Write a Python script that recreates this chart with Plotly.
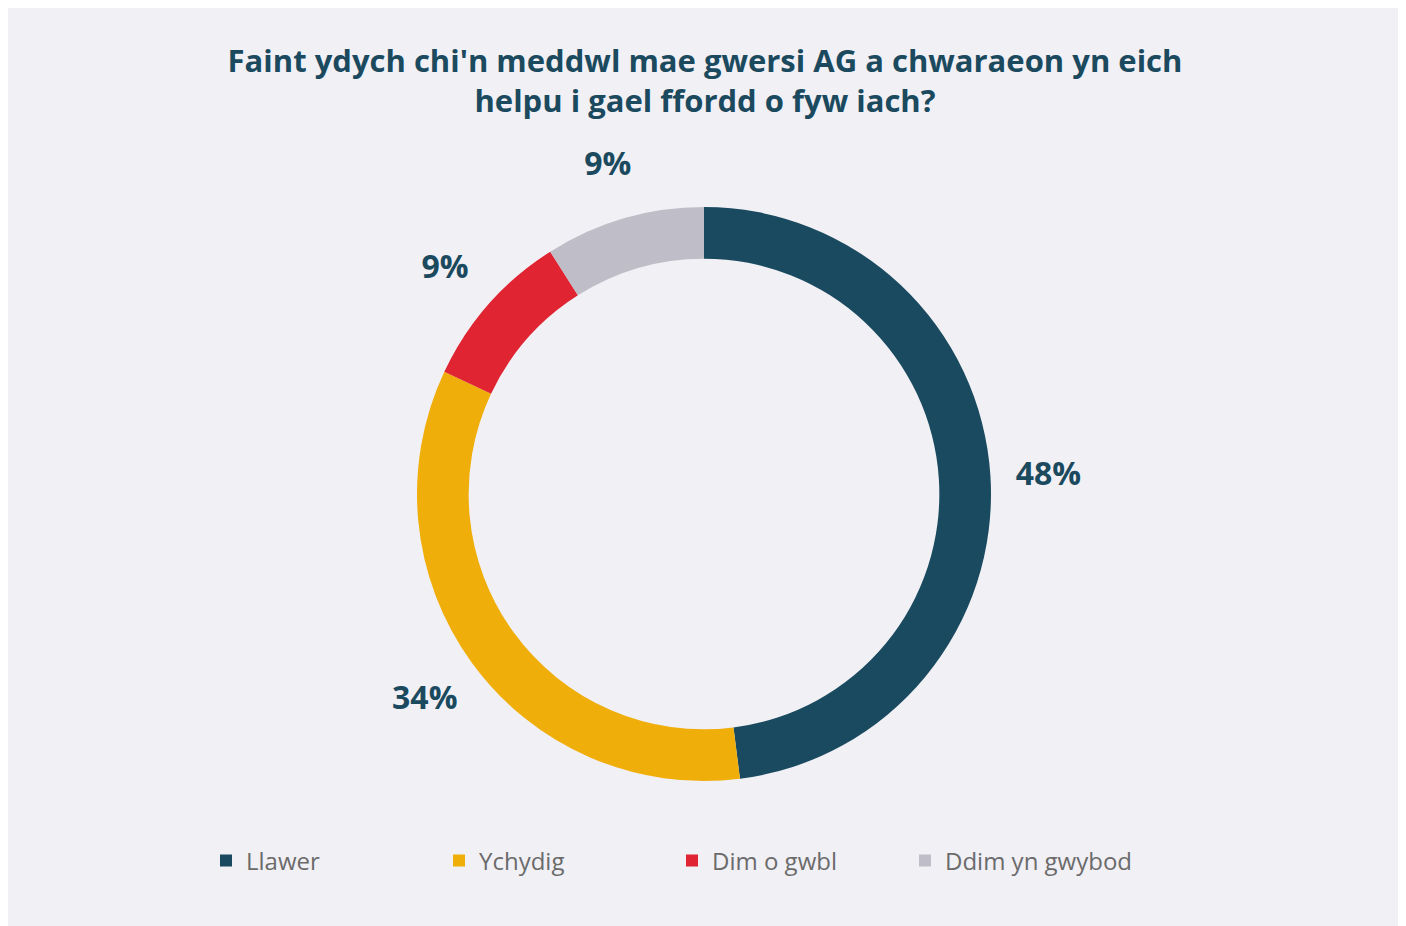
import plotly.graph_objects as go

categories = ["Llawer", "Ychydig", "Dim o gwbl", "Ddim yn gwybod"]
values = [48, 34, 9, 9]
colors = ["#194a5f", "#f0ae0b", "#e02432", "#bfbec8"]
title_text = "Faint ydych chi'n meddwl mae gwersi AG a chwaraeon yn eich<br>helpu i gael ffordd o fyw iach?"

W, H = 1394, 926
cx, cy = 696, 486

def dom(r):
    return dict(x=[(cx - r) / W, (cx + r) / W], y=[1 - (cy + r) / H, 1 - (cy - r) / H])

fig = go.Figure()

# main donut
fig.add_trace(go.Pie(
    labels=categories, values=values, sort=False, direction="clockwise", rotation=0,
    hole=0.82, marker=dict(colors=colors, line=dict(width=0)),
    textinfo="none", domain=dom(287), showlegend=True,
    hovertemplate="%{label}: %{value}%<extra></extra>",
))

# transparent ring carrying the percentage labels
fig.add_trace(go.Pie(
    labels=categories, values=values, sort=False, direction="clockwise", rotation=0,
    hole=0.77, marker=dict(colors=["rgba(0,0,0,0)"] * 4, line=dict(width=0)),
    texttemplate="%{value}%", textposition="inside", insidetextorientation="horizontal",
    insidetextfont=dict(family="Open Sans", size=32, color="#1b4a5f", weight="bold"),
    domain=dom(390), showlegend=False, hoverinfo="skip",
))

fig.update_layout(
    width=W, height=H,
    margin=dict(l=0, r=0, t=0, b=0),
    paper_bgcolor="#f1f0f5",
    title=dict(text=title_text, x=0.5, xanchor="center", y=1 - 64 / H, yanchor="top",
               font=dict(family="Open Sans", size=31, color="#1b4a5f", weight="bold")),
    legend=dict(orientation="h", x=198 / W, xanchor="left", y=1 - 853 / H, yanchor="middle",
                font=dict(family="Open Sans", size=24, color="#6b6b6b"),
                bgcolor="rgba(0,0,0,0)", entrywidth=188, traceorder="normal"),
)

fig.write_html("out.html")
